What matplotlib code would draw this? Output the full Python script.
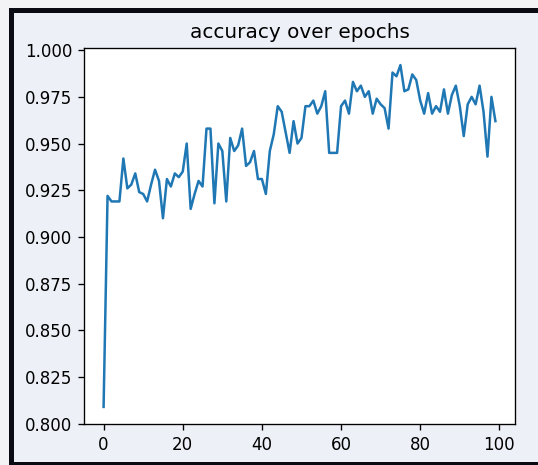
import matplotlib
matplotlib.use("Agg")
import matplotlib.pyplot as plt
from matplotlib.patches import Rectangle

# accuracy per epoch
accuracy = [
    0.809, 0.922, 0.919, 0.919, 0.919, 0.942, 0.926, 0.928, 0.934, 0.924,
    0.923, 0.919, 0.928, 0.936, 0.930, 0.910, 0.931, 0.927, 0.934, 0.932,
    0.935, 0.950, 0.915, 0.923, 0.930, 0.927, 0.958, 0.958, 0.918, 0.950,
    0.946, 0.919, 0.953, 0.946, 0.949, 0.958, 0.938, 0.940, 0.946, 0.931,
    0.931, 0.923, 0.946, 0.955, 0.970, 0.967, 0.956, 0.945, 0.962, 0.950,
    0.953, 0.970, 0.970, 0.973, 0.966, 0.970, 0.978, 0.945, 0.945, 0.945,
    0.970, 0.973, 0.966, 0.983, 0.978, 0.981, 0.975, 0.978, 0.966, 0.974,
    0.971, 0.969, 0.958, 0.988, 0.986, 0.992, 0.978, 0.979, 0.987, 0.984,
    0.973, 0.966, 0.977, 0.966, 0.970, 0.967, 0.979, 0.966, 0.976, 0.981,
    0.970, 0.954, 0.971, 0.975, 0.971, 0.981, 0.967, 0.943, 0.975, 0.962,
]
epochs = list(range(len(accuracy)))


def main() -> None:
    fig = plt.figure(figsize=(538 / 120, 465 / 120), dpi=120)
    fig.patch.set_facecolor("#f3f3f5")

    # screenshot frame around the chart
    frame = Rectangle(
        (10.5 / 538, 1.5 / 465), 540 / 538, 454 / 465,
        transform=fig.transFigure, facecolor="#edf0f6",
        edgecolor="#0a0a12", linewidth=3, zorder=-1,
    )
    fig.add_artist(frame)

    ax = fig.add_axes([84 / 538, 41 / 465, 431 / 538, 376 / 465])
    ax.set_facecolor("white")
    ax.plot(epochs, accuracy)
    ax.set_title("accuracy over epochs")

    fig.savefig("out.png", dpi=120, facecolor=fig.get_facecolor())


if __name__ == "__main__":
    main()
